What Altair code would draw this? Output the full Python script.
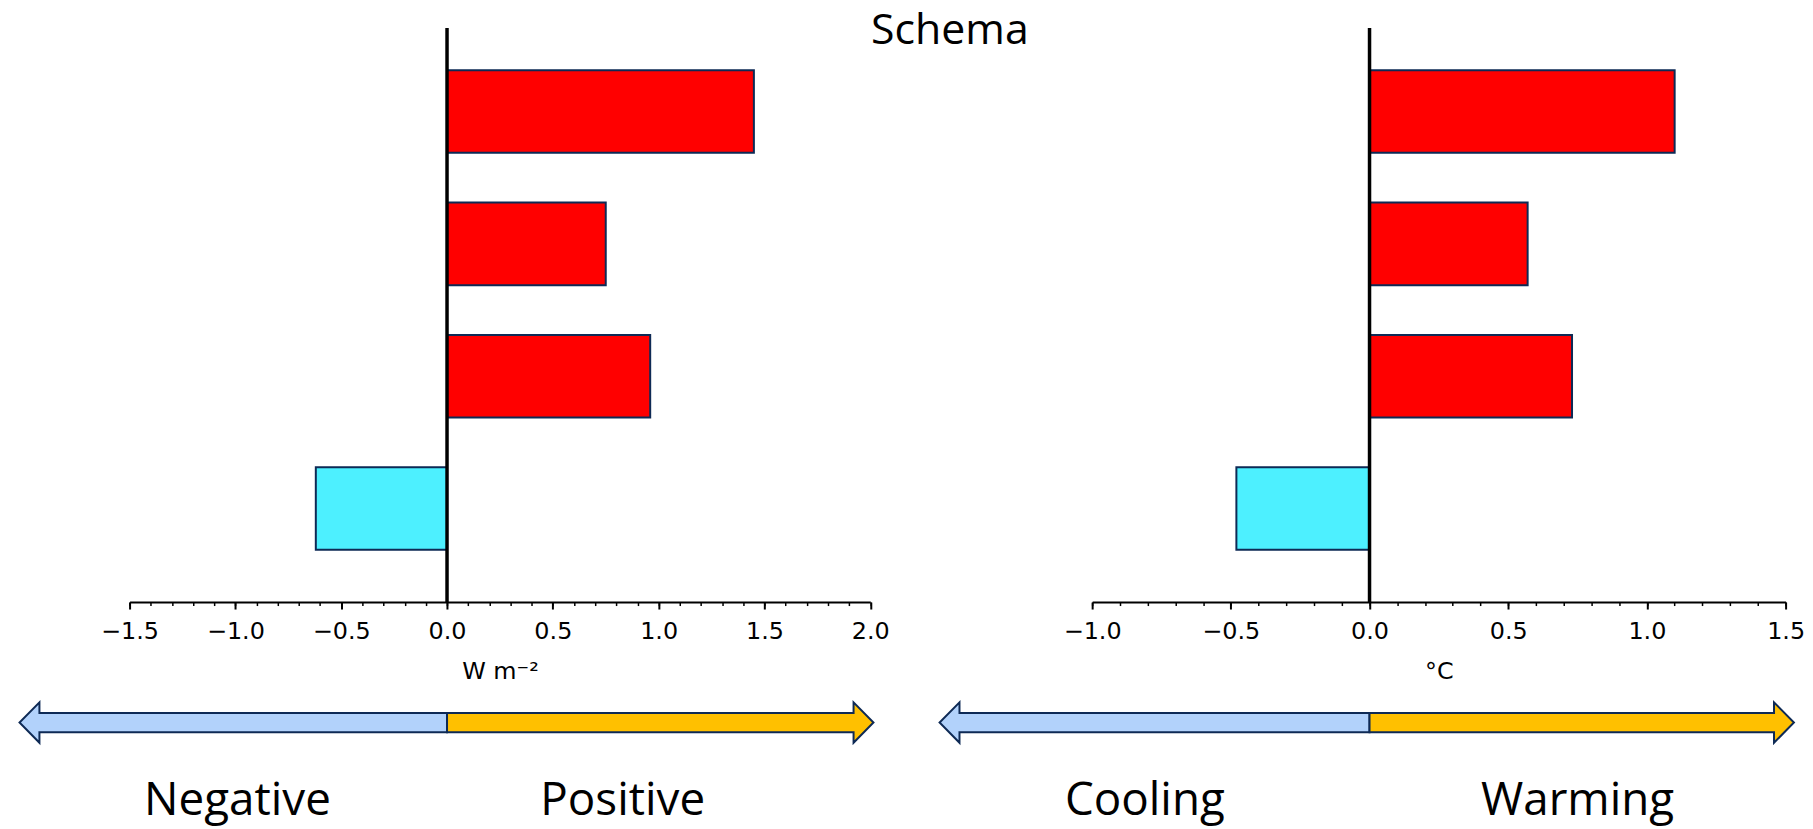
import altair as alt
import numpy as np
import pandas as pd

# ---------------- data ----------------
categories = ["A", "B", "C", "D"]
forcing_wm2 = [1.45, 0.75, 0.96, -0.62]
warming_c = [1.10, 0.57, 0.73, -0.48]

left_ticks = [-1.5, -1.0, -0.5, 0.0, 0.5, 1.0, 1.5, 2.0]
right_ticks = [-1.0, -0.5, 0.0, 0.5, 1.0, 1.5]
left_domain = [-1.5, 2.0]
right_domain = [-1.0, 1.5]
left_title = "W m⁻²"
right_title = "°C"

left_arrow = [-2.02, 2.015]
right_arrow = [-1.55, 1.53]
left_labels = ["Negative", "Positive"]
left_label_x = [-0.99, 0.83]
right_labels = ["Cooling", "Warming"]
right_label_x = [-0.81, 0.75]
chart_title = ["Schema"]

# ---------------- style ----------------
RED = "#FF0000"
CYAN = "#4DF0FF"
NAVY = "#0E2A55"
LIGHTBLUE = "#B2D2FB"
GOLD = "#FFC000"
TICK_FONT = "DejaVu Sans"
WORD_FONT = "Open Sans"

H = 577
W_LEFT = 744.5
W_RIGHT = 697
GAP = 222.5
ARROW_CENTER = 698.1   # px below plot top
HEAD_HALF = 20.3
SHAFT_RATIO = 0.478
HEAD_LEN_PX = 20
LABEL_BASELINE = 791.3


def arrow_frame(ext, head_len):
    rows = []
    for part, tip in (("neg", ext[0]), ("pos", ext[1])):
        base = tip + head_len if part == "neg" else tip - head_len
        pts = [(0, SHAFT_RATIO), (base, SHAFT_RATIO), (base, 1), (tip, 0),
               (base, -1), (base, -SHAFT_RATIO), (0, -SHAFT_RATIO)]
        for i, (x, y) in enumerate(pts):
            rows.append({"part": part, "i": i, "x": x, "y": y})
    return pd.DataFrame(rows)


def panel(values, domain, ticks, title, arrow_ext, labels, label_x, width, with_title=False):
    ppu = width / (domain[1] - domain[0])
    xs = alt.Scale(domain=domain, nice=False, zero=False)
    minor = np.round(np.arange(domain[0], domain[1] + 1e-9, 0.1), 2).tolist()

    bar_df = pd.DataFrame({"cat": categories, "value": values})
    bars = alt.Chart(bar_df).mark_bar(stroke=NAVY, strokeWidth=2).encode(
        x=alt.X("value:Q", scale=xs, title=title,
                axis=alt.Axis(values=ticks, format=".1f", orient="bottom",
                              tickSize=7, tickWidth=2, tickColor="black",
                              domainColor="black", domainWidth=2, grid=False,
                              labelFont=TICK_FONT, labelFontSize=24, labelColor="black",
                              labelPadding=11, labelFlush=False, labelOverlap=False,
                              titleFont=TICK_FONT, titleFontSize=24, titleFontWeight="normal",
                              titleColor="black", titlePadding=16)),
        x2=alt.datum(0),
        y=alt.Y("cat:N", sort=categories, axis=None,
                scale=alt.Scale(paddingInner=0.376, paddingOuter=0.357, align=0.447)),
        fill=alt.condition("datum.value > 0", alt.value(RED), alt.value(CYAN)),
    )

    zero_df = pd.DataFrame({"x0": [0.0]})
    rule = alt.Chart(zero_df).mark_rule(color="black", strokeWidth=3.5).encode(
        x=alt.X("x0:Q", scale=xs, title="",
                axis=alt.Axis(values=minor, orient="bottom", tickSize=3.5, tickWidth=1.5,
                              tickColor="black", labels=False, domain=False, grid=False))
    )

    adf = arrow_frame(arrow_ext, HEAD_LEN_PX / ppu)
    yscale = alt.Scale(domain=[-1, 1], range=[ARROW_CENTER - HEAD_HALF, ARROW_CENTER + HEAD_HALF],
                       nice=False, zero=False)
    arrows = []
    for part, col in (("neg", LIGHTBLUE), ("pos", GOLD)):
        arrows.append(
            alt.Chart(adf).transform_filter(alt.datum.part == part)
            .mark_line(fill=col, stroke=NAVY, strokeWidth=2, interpolate="linear-closed",
                       strokeJoin="miter")
            .encode(x=alt.X("x:Q", scale=xs, axis=None),
                    y=alt.Y("y:Q", scale=yscale, axis=None),
                    order=alt.Order("i:Q"))
        )

    lab_df = pd.DataFrame({"x": label_x, "label": labels})
    texts = alt.Chart(lab_df).mark_text(font=WORD_FONT, fontSize=46, color="black",
                                        baseline="alphabetic", align="center").encode(
        x=alt.X("x:Q", scale=xs, axis=None),
        y=alt.value(LABEL_BASELINE),
        text="label:N",
    )

    layers = [bars, rule] + arrows + [texts]
    if with_title:
        tdf = pd.DataFrame({"t": chart_title})
        layers.append(
            alt.Chart(tdf).mark_text(font=WORD_FONT, fontSize=43, color="black",
                                     baseline="alphabetic", align="center").encode(
                x=alt.value(824.5), y=alt.value(16.3), text="t:N")
        )
    return (alt.layer(*layers)
            .resolve_scale(y="independent")
            .resolve_axis(x="independent")
            .properties(width=width, height=H))


left = panel(forcing_wm2, left_domain, left_ticks, left_title, left_arrow,
             left_labels, left_label_x, W_LEFT, with_title=True)
right = panel(warming_c, right_domain, right_ticks, right_title, right_arrow,
              right_labels, right_label_x, W_RIGHT)

chart = (alt.hconcat(left, right, spacing=GAP, bounds="flush")
         .properties(padding={"left": 7.2, "top": 0, "right": 0, "bottom": 5},
                     background="white")
         .configure_view(stroke=None))

chart.save("out.html", embed_options={"renderer": "svg", "actions": False})
